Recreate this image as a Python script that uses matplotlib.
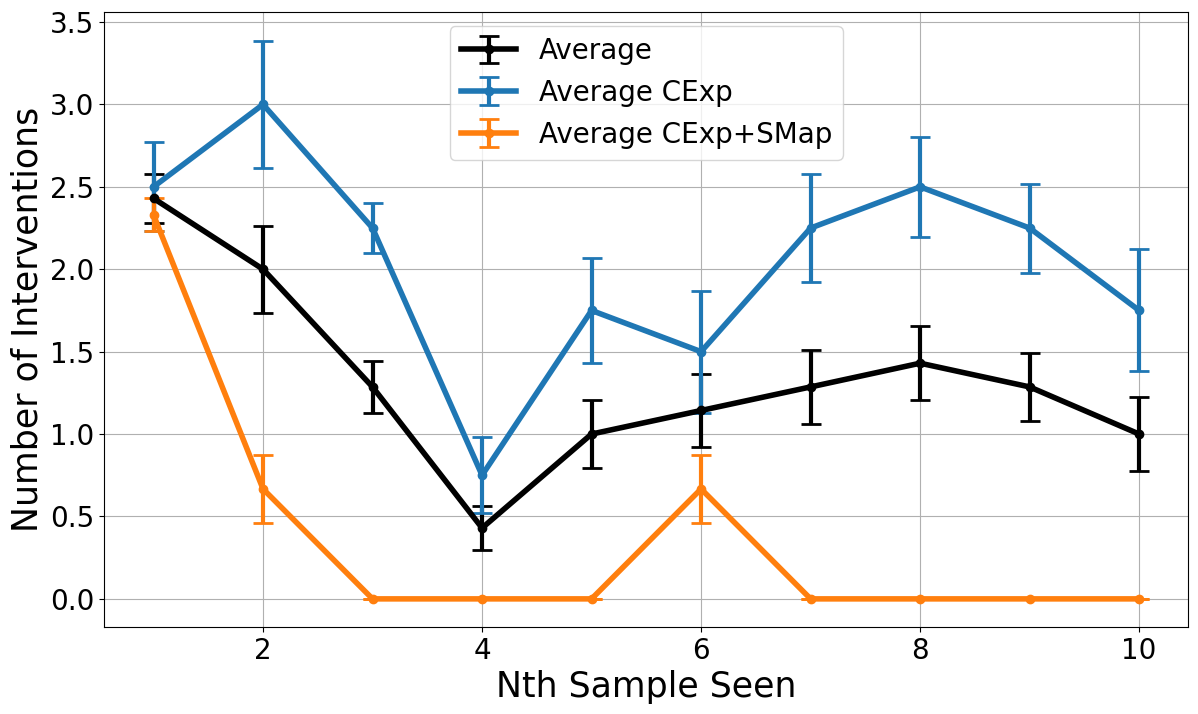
import matplotlib
matplotlib.use('Agg')
import matplotlib.pyplot as plt

# data
samples = [1, 2, 3, 4, 5, 6, 7, 8, 9, 10]

avg = [2.43, 2.0, 1.286, 0.43, 1.0, 1.143, 1.286, 1.43, 1.286, 1.0]
avg_err = [0.15, 0.265, 0.16, 0.135, 0.205, 0.22, 0.225, 0.225, 0.206, 0.225]

avg_cexp = [2.5, 3.0, 2.25, 0.75, 1.75, 1.5, 2.25, 2.5, 2.25, 1.75]
avg_cexp_err = [0.27, 0.385, 0.15, 0.23, 0.32, 0.37, 0.325, 0.305, 0.27, 0.37]

avg_smap = [2.33, 0.667, 0, 0, 0, 0.667, 0, 0, 0, 0]
avg_smap_err = [0.1, 0.205, 0, 0, 0, 0.205, 0, 0, 0, 0]

fig = plt.figure(figsize=(11.98, 7.14), dpi=100)
ax = fig.add_axes([0.087, 0.122, 0.905, 0.861])

ax.errorbar(samples, avg, yerr=avg_err, color='black', marker='o', markersize=6,
            linewidth=4, elinewidth=3, capsize=7, capthick=2, label='Average')
ax.errorbar(samples, avg_cexp, yerr=avg_cexp_err, color='#1f77b4', marker='o', markersize=6,
            linewidth=4, elinewidth=3, capsize=7, capthick=2, label='Average CExp')
ax.errorbar(samples, avg_smap, yerr=avg_smap_err, color='#ff7f0e', marker='o', markersize=6,
            linewidth=4, elinewidth=3, capsize=7, capthick=2, label='Average CExp+SMap')

ax.set_xlabel('Nth Sample Seen', fontsize=25)
ax.set_ylabel('Number of Interventions', fontsize=25)
ax.tick_params(axis='both', labelsize=20)
ax.set_yticks([0, 0.5, 1.0, 1.5, 2.0, 2.5, 3.0, 3.5])
ax.set_ylim(-0.17, 3.56)
ax.grid(True)
ax.legend(fontsize=20, loc='upper center')

fig.savefig('out.png')
